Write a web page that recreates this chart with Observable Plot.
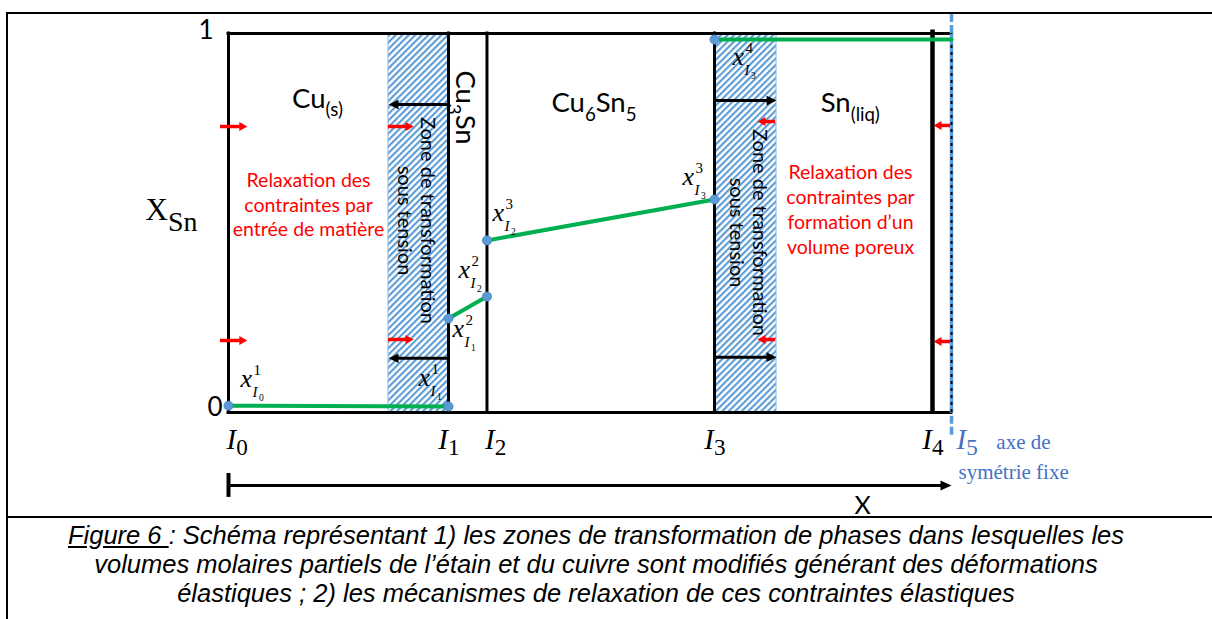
<!DOCTYPE html>
<html><head><meta charset="utf-8">
<script src="https://cdn.jsdelivr.net/npm/d3@7"></script>
<script src="https://cdn.jsdelivr.net/npm/@observablehq/plot@0.6"></script>
<style>
html,body{margin:0;padding:0;background:#fff;}
#wrap{position:relative;width:1212px;height:619px;overflow:hidden;}
#chart{position:absolute;left:0;top:0;}
#chart svg{display:block;}
#frame{position:absolute;left:6px;top:12px;width:1206px;height:607px;border-left:2.5px solid #000;border-top:2.5px solid #000;box-sizing:border-box;pointer-events:none;}
#caption{position:absolute;left:6px;top:516px;width:1206px;height:103px;border-top:2.5px solid #000;box-sizing:border-box;}
#caption div{width:1180px;text-align:center;font:italic 25.5px "Liberation Sans", Arial, sans-serif;line-height:29px;padding-top:3px;white-space:nowrap;}
</style></head>
<body>
<div id="wrap">
<div id="chart"></div>
<div id="frame"></div>
<div id="caption"><div><u>Figure 6 </u>: Schéma représentant 1) les zones de transformation de phases dans lesquelles les<br>volumes molaires partiels de l’étain et du cuivre sont modifiés générant des déformations<br>élastiques ; 2) les mécanismes de relaxation de ces contraintes élastiques</div></div>
</div>
<script>
// ---------- data ----------
const boundaryNames = ["I_{0}", "I_{1}", "I_{2}", "I_{3}", "I_{4}", "I_{5}"];
const boundaryX = [0, 30.43, 35.75, 67.22, 97.37, 100];

const phaseNames = ["Cu_{(s)}", "Cu_{3}Sn", "Cu_{6}Sn_{5}", "Sn_{(liq)}"];
const phaseX = [12.31, 31.4, 50.55, 86.0];
const phaseY = [0.8047, 0.8047, 0.7916, 0.7916];

const zoneStart = [22.13, 67.22];
const zoneEnd = [30.43, 75.8];
const zoneText = "Zone de transformation\nsous tension";
const zoneTextX = [26.0, 71.92];
const zoneTextY = [0.5066, 0.4749];

// x_Sn profile (green), one segment per phase
const profileSegment = [1, 1, 2, 2, 3, 3, 4, 4];
const profileX = [0, 30.43, 30.43, 35.75, 35.75, 67.22, 67.22, 100];
const profileY = [0.018, 0.016, 0.248, 0.306, 0.454, 0.562, 0.984, 0.984];

// interface compositions labels x^sup_{I_sub}
const pointSup = [1, 1, 2, 2, 3, 3, 4];
const pointSub = [0, 1, 1, 2, 2, 3, 3];
const pointX = [1.66, 26.28, 30.98, 31.81, 36.51, 62.79, 69.71];
const pointY = [0.066, 0.069, 0.198, 0.356, 0.504, 0.599, 0.916];

const relaxTexts = ["Relaxation des\ncontraintes par\nentrée de matière",
                    "Relaxation des\ncontraintes par\nformation d’un\nvolume poreux"];
const relaxTextX = [11.07, 86.03];
const relaxTextY = [0.4644, 0.4195];

// black arrows: displacement inside the transformation zones
const moveFrom = [30.43, 30.43, 67.22, 67.22];
const moveTo = [22.13, 22.13, 75.8, 75.8];
const moveY = [0.8127, 0.1433, 0.823, 0.146];

// red arrows: stress relaxation
const relaxFrom = [-1.11, -1.11, 22.13, 22.13, 75.66, 75.66, 99.86, 99.86];
const relaxTo = [2.6, 2.6, 25.6, 25.6, 73.17, 73.17, 97.51, 97.51];
const relaxY = [0.7546, 0.19, 0.7546, 0.1926, 0.7678, 0.1926, 0.7573, 0.1873];

const yTicks = [0, 1];
const yTitle = "X_{Sn}";
const yTitleX = -11.48, yTitleY = 0.5066;

const xAxisY = -0.1926, xAxisTick = [-0.161, -0.224];
const xTitle = "X", xTitleX = 87.69, xTitleY = -0.2665;
const boundaryLabelY = -0.0976;

const noteLines = ["axe de", "symétrie fixe"];
const noteX = [106.2, 100.97];
const noteY = [-0.095, -0.176];

// ---------- tables ----------
const boundaries = boundaryNames.map((name, i) => ({name, x: boundaryX[i]}));
const phases = phaseNames.map((name, i) => ({name, x: phaseX[i], y: phaseY[i], rotate: name === "Cu_{3}Sn" ? 90 : 0}));
const zones = zoneStart.map((s, i) => ({start: s, end: zoneEnd[i], tx: zoneTextX[i], ty: zoneTextY[i]}));
const profile = profileX.map((x, i) => ({x, y: profileY[i], segment: profileSegment[i]}));
const points = pointX.map((x, i) => ({x, y: pointY[i], sup: pointSup[i], sub: pointSub[i]}));
const relaxLabels = relaxTexts.map((text, i) => ({text, x: relaxTextX[i], y: relaxTextY[i]}));
const moves = moveFrom.map((f, i) => ({from: f, to: moveTo[i], y: moveY[i]}));
const relaxes = relaxFrom.map((f, i) => ({from: f, to: relaxTo[i], y: relaxY[i]}));
const notes = noteLines.map((text, i) => ({text, x: noteX[i], y: noteY[i]}));

const leftOfLine = new Set(["I_{1}", "I_{3}", "I_{4}"]);
const SERIF = "'Liberation Serif', 'DejaVu Serif', serif";
const SANS = "Lato, 'Open Sans', sans-serif";
const BLUE = "#4472c4";

function arrowMarks(data, color, width, L, W) {
  const right = data.filter(d => d.to > d.from), left = data.filter(d => d.to < d.from);
  const hr = {draw(c) { c.moveTo(0, 0); c.lineTo(-L, -W); c.lineTo(-L, W); c.closePath(); }};
  const hl = {draw(c) { c.moveTo(0, 0); c.lineTo(L, -W); c.lineTo(L, W); c.closePath(); }};
  return [
    Plot.ruleY(right, {y: "y", x1: "from", x2: "to", insetRight: L - 1, stroke: color, strokeWidth: width}),
    Plot.ruleY(left, {y: "y", x1: "to", x2: "from", insetLeft: L - 1, stroke: color, strokeWidth: width}),
    Plot.dot(right, {x: "to", y: "y", symbol: hr, r: 1, fill: color, stroke: "none"}),
    Plot.dot(left, {x: "to", y: "y", symbol: hl, r: 1, fill: color, stroke: "none"})
  ];
}

const I5 = boundaries.filter(d => d.name === "I_{5}");

const chart = Plot.plot({
  width: 1212, height: 518,
  marginLeft: 228, marginRight: 261, marginTop: 33, marginBottom: 106,
  x: {domain: [0, 100], axis: null},
  y: {domain: [0, 1], axis: null},
  style: {background: "transparent", overflow: "visible"},
  marks: [
    // hatched transformation zones
    Plot.rect(zones, {x1: "start", x2: "end", y1: 0, y2: 1, fill: "url(#hatch)", stroke: "#8fb4e3", strokeWidth: 1}),
    // phase boundaries
    Plot.ruleX(boundaries.filter(d => ["I_{0}", "I_{1}", "I_{2}", "I_{3}"].includes(d.name)),
      {x: "x", y1: 0, y2: 1, stroke: "black", strokeWidth: 3, strokeLinecap: "square"}),
    Plot.ruleX(boundaries.filter(d => d.name === "I_{4}"), {x: "x", y1: 0, y2: 1.009, stroke: "black", strokeWidth: 4.5}),
    Plot.ruleY(yTicks, {y: d => d, x1: 0, x2: 100, stroke: "black", strokeWidth: 3, strokeLinecap: "square"}),
    // symmetry axis
    Plot.ruleX(I5, {x: "x", y1: 0, y2: 1, stroke: "#5b9bd5", strokeWidth: 3.5}),
    Plot.ruleX(I5, {x: "x", y1: -0.06, y2: 0, stroke: "#5b9bd5", strokeWidth: 3.5, strokeDasharray: "8,3"}),
    Plot.ruleX(I5, {x: "x", y1: 1, y2: 1.053, stroke: "#5b9bd5", strokeWidth: 3.5, strokeDasharray: "8,3"}),
    Plot.ruleX(I5, {x: "x", y1: 0, y2: 1, stroke: "black", strokeWidth: 2, strokeDasharray: "3,4"}),
    // composition profile
    Plot.line(profile, {x: "x", y: "y", z: "segment", stroke: "#00b050", strokeWidth: 4}),
    Plot.dot(profile.filter(d => d.x < 100), {x: "x", y: "y", r: 4.6, fill: "#5b9bd5", stroke: "#4a84c0", strokeWidth: 0.8}),
    // arrows
    ...arrowMarks(moves, "black", 3, 10, 4.8),
    ...arrowMarks(relaxes, "#ff0000", 3.5, 8, 4.5),
    // x axis arrow
    Plot.ruleX([0], {x: d => d, y1: xAxisTick[0], y2: xAxisTick[1], stroke: "black", strokeWidth: 4}),
    ...arrowMarks([{from: 0, to: 100, y: xAxisY}], "black", 3, 11, 5),
    Plot.text([xTitle], {x: xTitleX, y: xTitleY, text: d => d, fontFamily: SANS, fontSize: 25, textAnchor: "middle", lineAnchor: "bottom"}),
    // y ticks & title
    Plot.text(yTicks.filter(d => d === 1), {x: 0, y: d => d, text: d => String(d), fontFamily: SANS, fontSize: 26, textAnchor: "end", lineAnchor: "bottom", dx: -15, dy: 5}),
    Plot.text(yTicks.filter(d => d === 0), {x: 0, y: d => d, text: d => String(d), fontFamily: SANS, fontSize: 26, textAnchor: "end", lineAnchor: "bottom", dx: -6, dy: 3}),
    Plot.text([yTitle], {x: yTitleX, y: yTitleY, text: d => d, fontFamily: SERIF, fontSize: 31, textAnchor: "start", lineAnchor: "bottom", ariaDescription: "xsn"}),
    // boundary labels
    Plot.text(boundaries.filter(d => leftOfLine.has(d.name)), {x: "x", y: boundaryLabelY, text: "name", fontFamily: SERIF, fontStyle: "italic", fontSize: 29, textAnchor: "end", lineAnchor: "bottom", dx: 11, ariaDescription: "ilabel"}),
    Plot.text(boundaries.filter(d => !leftOfLine.has(d.name) && d.name !== "I_{5}"), {x: "x", y: boundaryLabelY, text: "name", fontFamily: SERIF, fontStyle: "italic", fontSize: 29, textAnchor: "start", lineAnchor: "bottom", dx: -2, ariaDescription: "ilabel"}),
    Plot.text(I5, {x: "x", y: boundaryLabelY, text: "name", fontFamily: SERIF, fontStyle: "italic", fontSize: 29, fill: BLUE, textAnchor: "start", lineAnchor: "bottom", dx: 5, ariaDescription: "ilabel"}),
    Plot.text(notes, {x: "x", y: "y", text: "text", fontFamily: SERIF, fontSize: 21, fill: BLUE, textAnchor: "start", lineAnchor: "bottom"}),
    // phases
    Plot.text(phases, {x: "x", y: "y", text: "name", rotate: "rotate", fontFamily: SANS, fontSize: 27.5, textAnchor: "middle", lineAnchor: "bottom", ariaDescription: "chem"}),
    // zone labels
    Plot.text(zones, {x: "tx", y: "ty", text: () => zoneText, rotate: 90, fontFamily: SANS, fontSize: 20, lineHeight: 1.12, textAnchor: "middle", lineAnchor: "middle"}),
    // relaxation labels
    Plot.text(relaxLabels, {x: "x", y: "y", text: "text", fontFamily: SANS, fontSize: 19.5, lineHeight: 1.27, fill: "#ff0000", textAnchor: "middle", lineAnchor: "bottom"}),
    // interface composition labels
    Plot.text(points, {x: "x", y: "y", text: () => "x", fontFamily: SERIF, fontStyle: "italic", fontSize: 26, textAnchor: "start", lineAnchor: "bottom"}),
    Plot.text(points, {x: "x", y: "y", text: d => String(d.sup), fontFamily: SERIF, fontSize: 15, textAnchor: "start", lineAnchor: "bottom", dx: 13, dy: -12}),
    Plot.text(points, {x: "x", y: "y", text: () => "I", fontFamily: SERIF, fontStyle: "italic", fontSize: 15, textAnchor: "start", lineAnchor: "bottom", dx: 12, dy: 10}),
    Plot.text(points, {x: "x", y: "y", text: d => String(d.sub), fontFamily: SERIF, fontSize: 9.5, textAnchor: "start", lineAnchor: "bottom", dx: 18.5, dy: 14})
  ]
});

document.getElementById("chart").appendChild(chart);

// hatch pattern
const defs = d3.select(chart).insert("defs", ":first-child");
const pat = defs.append("pattern").attr("id", "hatch").attr("patternUnits", "userSpaceOnUse")
  .attr("width", 4.6).attr("height", 4.6).attr("patternTransform", "rotate(45)");
pat.append("rect").attr("width", 4.6).attr("height", 4.6).attr("fill", "white");
pat.append("rect").attr("width", 2.1).attr("height", 4.6).attr("fill", "#5b9bd5");

// subscripts
const NS = "http://www.w3.org/2000/svg";
function richText(svg, tag, ratio, shift) {
  svg.querySelectorAll(`g[aria-description="${tag}"] text`).forEach(t => {
    const s = t.textContent;
    const fs = parseFloat(getComputedStyle(t).fontSize);
    const re = /_\{([^}]*)\}/g;
    t.textContent = "";
    let last = 0, m, down = 0;
    const add = (str, dy, sub) => {
      const ts = document.createElementNS(NS, "tspan");
      ts.textContent = str;
      if (dy) ts.setAttribute("dy", dy);
      if (sub) { ts.setAttribute("font-size", fs * ratio); ts.setAttribute("font-style", "normal"); }
      t.appendChild(ts);
    };
    while ((m = re.exec(s))) {
      if (m.index > last) { add(s.slice(last, m.index), -down, false); down = 0; }
      add(m[1], fs * shift - down, true); down = fs * shift;
      last = re.lastIndex;
    }
    if (last < s.length) add(s.slice(last), -down, false);
  });
}
richText(chart, "chem", 0.68, 0.3);
richText(chart, "ilabel", 0.8, 0.2);
richText(chart, "xsn", 0.9, 0.35);
</script>
</body></html>
